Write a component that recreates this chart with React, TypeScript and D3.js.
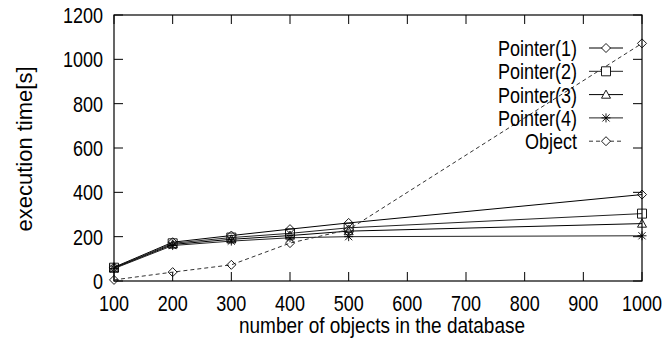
import React, { useEffect, useRef } from "react";
import * as d3 from "d3";

const sizes = [100, 200, 300, 400, 500, 1000];
const pointer1 = [62, 175, 205, 234, 262, 390];
const pointer2 = [60, 170, 196, 215, 240, 304];
const pointer3 = [58, 165, 188, 205, 225, 259];
const pointer4 = [56, 160, 180, 195, 200, 204];
const objectVals = [5, 40, 73, 171, 232, 1072];
const xTicks = [100, 200, 300, 400, 500, 600, 700, 800, 900, 1000];
const yTicks = [0, 200, 400, 600, 800, 1000, 1200];
const seriesNames = ["Pointer(1)", "Pointer(2)", "Pointer(3)", "Pointer(4)", "Object"];

const W = 672;
const H = 342;
const margin = { left: 114, right: 30, top: 15, bottom: 61 };
const FONT = "Liberation Sans, Arial, Helvetica, sans-serif";
const FS = 18;
const STRETCH = 1.2; // gnuplot's Helvetica looks taller than wide

// marker path for each series
function markerPath(kind: string, r: number) {
  if (kind === "diamond") return `M0,${-r}L${r},0L0,${r}L${-r},0Z`;
  if (kind === "square") return `M${-r},${-r}H${r}V${r}H${-r}Z`;
  if (kind === "triangle") return `M0,${-r}L${r},${r * 0.8}L${-r},${r * 0.8}Z`;
  // asterisk
  const d = r * 0.8;
  return `M${-r},0H${r}M0,${-r}V${r}M${-d},${-d}L${d},${d}M${-d},${d}L${d},${-d}`;
}

export default function App() {
  const ref = useRef<SVGSVGElement>(null);

  useEffect(() => {
    const svg = d3.select(ref.current);
    svg.selectAll("*").remove();

    const x = d3.scaleLinear().domain([100, 1000]).range([margin.left, W - margin.right]);
    const y = d3.scaleLinear().domain([0, 1200]).range([H - margin.bottom, margin.top]);

    const x0 = x(100), x1 = x(1000), y0 = y(0), y1 = y(1200);
    const tick = 9;

    const series = [
      { name: seriesNames[0], vals: pointer1, marker: "diamond", dash: null, color: "#000" },
      { name: seriesNames[1], vals: pointer2, marker: "square", dash: null, color: "#222" },
      { name: seriesNames[2], vals: pointer3, marker: "triangle", dash: null, color: "#000" },
      { name: seriesNames[3], vals: pointer4, marker: "asterisk", dash: null, color: "#222" },
      { name: seriesNames[4], vals: objectVals, marker: "diamond", dash: "4,3", color: "#333" },
    ];

    const g = svg.append("g");

    // text helper: baseline at (tx, ty), stretched vertically
    const label = (tx: number, ty: number, s: string | number, anchor: string,
      rot = 0, fs = FS, stretch = STRETCH) =>
      g.append("text")
        .attr("transform", `translate(${tx},${ty}) rotate(${rot}) scale(1,${stretch})`)
        .attr("text-anchor", anchor)
        .attr("font-family", FONT).attr("font-size", fs).text(s);

    // ticks, mirrored on top and right like gnuplot
    xTicks.forEach((t) => {
      g.append("line").attr("x1", x(t)).attr("x2", x(t)).attr("y1", y0).attr("y2", y0 - tick)
        .attr("stroke", "#000");
      g.append("line").attr("x1", x(t)).attr("x2", x(t)).attr("y1", y1).attr("y2", y1 + tick)
        .attr("stroke", "#000");
      label(x(t), y0 + 30, t, "middle");
    });
    yTicks.forEach((t) => {
      g.append("line").attr("x1", x0).attr("x2", x0 + tick).attr("y1", y(t)).attr("y2", y(t))
        .attr("stroke", "#000");
      g.append("line").attr("x1", x1).attr("x2", x1 - tick).attr("y1", y(t)).attr("y2", y(t))
        .attr("stroke", "#000");
      label(x0 - 11, y(t) + 8, t, "end");
    });

    g.append("rect").attr("x", x0).attr("y", y1).attr("width", x1 - x0).attr("height", y0 - y1)
      .attr("fill", "none").attr("stroke", "#000").attr("stroke-width", 1.2);

    const line = d3.line<number>().x((d, i) => x(sizes[i])).y((d) => y(d));

    series.forEach((s) => {
      g.append("path").datum(s.vals).attr("d", line).attr("fill", "none")
        .attr("stroke", s.color).attr("stroke-width", 1)
        .attr("stroke-dasharray", s.dash);
      g.selectAll(null).data(s.vals).enter().append("path")
        .attr("transform", (d, i) => `translate(${x(sizes[i])},${y(d)})`)
        .attr("d", markerPath(s.marker, 4.5))
        .attr("fill", "none")
        .attr("stroke", "#000").attr("stroke-width", 0.9);
    });

    // legend
    series.forEach((s, i) => {
      const ly = 48 + i * 23.3;
      label(577, ly + 8, s.name, "end");
      g.append("line").attr("x1", 589).attr("x2", 623).attr("y1", ly).attr("y2", ly)
        .attr("stroke", s.color).attr("stroke-dasharray", s.dash);
      g.append("path").attr("transform", `translate(606,${ly})`)
        .attr("d", markerPath(s.marker, 4.5)).attr("fill", "#fff")
        .attr("fill-opacity", s.marker === "asterisk" ? 0 : 1)
        .attr("stroke", "#000").attr("stroke-width", 0.9);
    });

    // axis titles
    label(382, y0 + 52, "number of objects in the database", "middle", 0, 19);
    label(32, 149, "execution time[s]", "middle", -90, 22, 1);
  }, []);

  return (
    <svg ref={ref} width={W} height={H}
      style={{ position: "absolute", left: 0, top: 0, background: "#fff" }} />
  );
}
